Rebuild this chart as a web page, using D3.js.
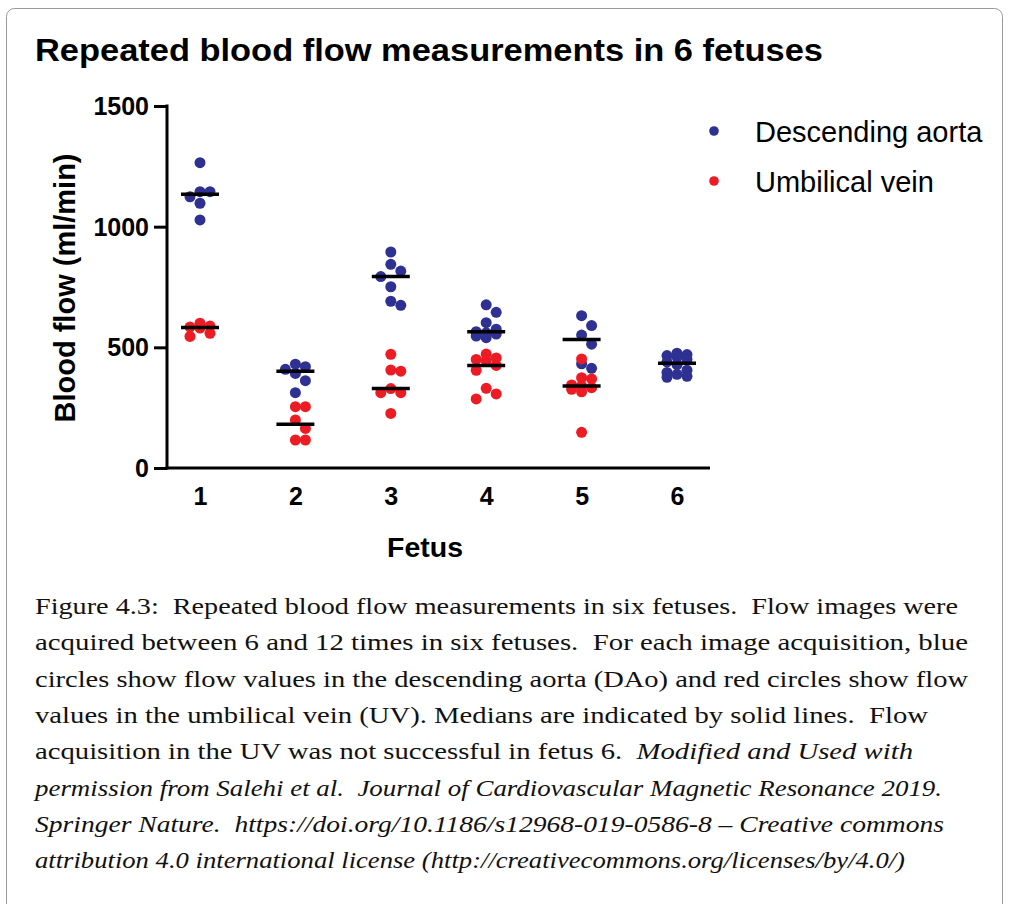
<!DOCTYPE html>
<html>
<head>
<meta charset="utf-8">
<script src="https://cdn.jsdelivr.net/npm/d3@7"></script>
<style>
  html, body { margin: 0; padding: 0; background: #fff; }
  svg { display: block; }
  .caption { white-space: pre; }
</style>
</head>
<body>
<div id="chart"></div>
<script>
// 데이터
const fetuses = ["1", "2", "3", "4", "5", "6"];
const aortaValues = [
    [1265, 1145, 1145, 1124, 1097, 1028],
    [430, 420, 409, 392, 362, 312],
    [895, 844, 816, 793, 751, 691, 674],
    [676, 645, 602, 575, 565, 560, 555, 547, 540],
    [631, 590, 551, 513, 432, 413],
    [476, 470, 466, 460, 450, 440, 428, 405, 396, 388, 380, 376]
];
const veinValues = [
    [600, 588, 584, 580, 558, 545],
    [254, 254, 199, 164, 116, 116],
    [471, 406, 401, 329, 312, 312, 226],
    [472, 456, 450, 445, 425, 405, 330, 307, 286],
    [452, 374, 369, 344, 340, 333, 326, 316, 148],
    []
];
const yTicks = [0, 500, 1000, 1500];
const seriesNames = ["Descending aorta", "Umbilical vein"];
const seriesColors = ["#2e3192", "#ed1c24"];
const titleText = "Repeated blood flow measurements in 6 fetuses";
const captionLines = [
    [["Figure 4.3:  Repeated blood flow measurements in six fetuses.  Flow images were", false]],
    [["acquired between 6 and 12 times in six fetuses.  For each image acquisition, blue", false]],
    [["circles show flow values in the descending aorta (DAo) and red circles show flow", false]],
    [["values in the umbilical vein (UV). Medians are indicated by solid lines.  Flow", false]],
    [["acquisition in the UV was not successful in fetus 6.  ", false], ["Modified and Used with", true]],
    [["permission from Salehi et al.  Journal of Cardiovascular Magnetic Resonance 2019.", true]],
    [["Springer Nature.  https://doi.org/10.1186/s12968-019-0586-8 – Creative commons", true]],
    [["attribution 4.0 international license (http://creativecommons.org/licenses/by/4.0/)", true]]
];
const captionRight = [958, 968, 968, 928, 913, 942, 944, 905];

const W = 1009, H = 904;
const sans = "'Liberation Sans', Arial, Helvetica, sans-serif";
const serif = "'Liberation Serif', 'Times New Roman', Tinos, serif";

const svg = d3.select('#chart').append('svg')
    .attr('width', W)
    .attr('height', H);

// 테두리
svg.append('rect')
    .attr('x', 6.5).attr('y', 8.5)
    .attr('width', 996).attr('height', 940)
    .attr('rx', 8)
    .attr('fill', 'none')
    .attr('stroke', '#9a9a9a')
    .attr('stroke-width', 1);

// 제목
svg.append('text')
    .attr('x', 35).attr('y', 61)
    .attr('font-family', sans)
    .attr('font-weight', 'bold')
    .attr('font-size', 31)
    .attr('textLength', 788)
    .attr('lengthAdjust', 'spacingAndGlyphs')
    .attr('fill', '#000')
    .text(titleText);

// 스케일
const x = d3.scalePoint().domain(fetuses).range([200, 677]);
const y = d3.scaleLinear().domain([0, 1500]).range([468, 106]);
const r = 5.5;

// Y 축
const yAxis = svg.append('g')
    .attr('transform', 'translate(167,0)')
    .call(d3.axisLeft(y).tickValues(yTicks).tickFormat(d3.format('d'))
        .tickSize(13).tickSizeOuter(0).tickPadding(5));
yAxis.select('.domain').attr('stroke', '#000').attr('stroke-width', 3)
    .attr('d', `M0,${y(1500) - 1.5}V${y(0) + 1.5}`);
yAxis.selectAll('.tick line').attr('stroke', '#000').attr('stroke-width', 3);
yAxis.selectAll('.tick text')
    .attr('font-family', sans)
    .attr('font-weight', 'bold')
    .attr('font-size', 25)
    .attr('dy', '0.34em')
    .attr('fill', '#000');

// X 축
svg.append('line')
    .attr('x1', 165.5).attr('x2', 710)
    .attr('y1', y(0)).attr('y2', y(0))
    .attr('stroke', '#000').attr('stroke-width', 3);
const xAxis = svg.append('g')
    .attr('transform', `translate(0,${y(0)})`)
    .call(d3.axisBottom(x).tickSize(0).tickPadding(19));
xAxis.select('.domain').remove();
xAxis.selectAll('.tick text')
    .attr('font-family', sans)
    .attr('font-weight', 'bold')
    .attr('font-size', 25)
    .attr('fill', '#000');

// 축 제목
svg.append('text')
    .attr('transform', `translate(75,288) rotate(-90)`)
    .attr('text-anchor', 'middle')
    .attr('font-family', sans)
    .attr('font-weight', 'bold')
    .attr('font-size', 29)
    .text('Blood flow (ml/min)');
svg.append('text')
    .attr('x', 425).attr('y', 557)
    .attr('text-anchor', 'middle')
    .attr('font-family', sans)
    .attr('font-weight', 'bold')
    .attr('font-size', 28.5)
    .text('Fetus');

// 점 배치 (세 줄 안에서 겹침을 줄이도록 좌우로 퍼뜨림)
function swarm(values, cx) {
    const placed = [];
    const step = 10, minDist = 12;
    const offsets = [0, step, -step];
    values.slice().sort((a, b) => b - a).forEach(v => {
        const py = y(v);
        let best = null, bestD = -1;
        for (const off of offsets) {
            const px = cx + off;
            const d = placed.length ? d3.min(placed, p => Math.hypot(p.x - px, p.y - py)) : Infinity;
            if (d >= minDist) { best = px; break; }
            if (d > bestD) { bestD = d; best = px; }
        }
        placed.push({ x: best, y: py, v });
    });
    return placed;
}

const seriesValues = [aortaValues, veinValues];
seriesValues.forEach((groups, s) => {
    groups.forEach((vals, i) => {
        if (!vals.length) return;
        const cx = x(fetuses[i]);
        const pts = swarm(vals, cx);
        svg.append('g').selectAll('circle')
            .data(pts)
            .join('circle')
            .attr('cx', d => d.x)
            .attr('cy', d => d.y)
            .attr('r', r)
            .attr('fill', seriesColors[s]);
    });
});

// 중앙값 선
seriesValues.forEach(groups => {
    groups.forEach((vals, i) => {
        if (!vals.length) return;
        const m = d3.median(vals);
        const cx = x(fetuses[i]);
        svg.append('line')
            .attr('x1', cx - 19).attr('x2', cx + 19)
            .attr('y1', y(m)).attr('y2', y(m))
            .attr('stroke', '#000').attr('stroke-width', 3.5);
    });
});

// 범례
seriesNames.forEach((name, i) => {
    const ly = 131 + i * 50;
    svg.append('circle')
        .attr('cx', 714).attr('cy', ly).attr('r', 4.8)
        .attr('fill', seriesColors[i]);
    svg.append('text')
        .attr('x', 755).attr('y', ly + 10.5)
        .attr('font-family', sans)
        .attr('font-size', 29)
        .attr('fill', '#000')
        .text(name);
});

// 캡션
captionLines.forEach((parts, i) => {
    const t = svg.append('text')
        .attr('class', 'caption')
        .attr('x', 35).attr('y', 614 + i * 36.3)
        .attr('font-family', serif)
        .attr('font-size', 22.5)
        .attr('fill', '#111');
    parts.forEach(([str, ital]) => {
        t.append('tspan')
            .attr('font-style', ital ? 'italic' : 'normal')
            .text(str);
    });
    const target = captionRight[i] - 35;
    const natural = t.node().getComputedTextLength();
    if (Math.abs(natural - target) > 2) {
        t.attr('textLength', target).attr('lengthAdjust', 'spacingAndGlyphs');
    }
});
</script>
</body>
</html>
